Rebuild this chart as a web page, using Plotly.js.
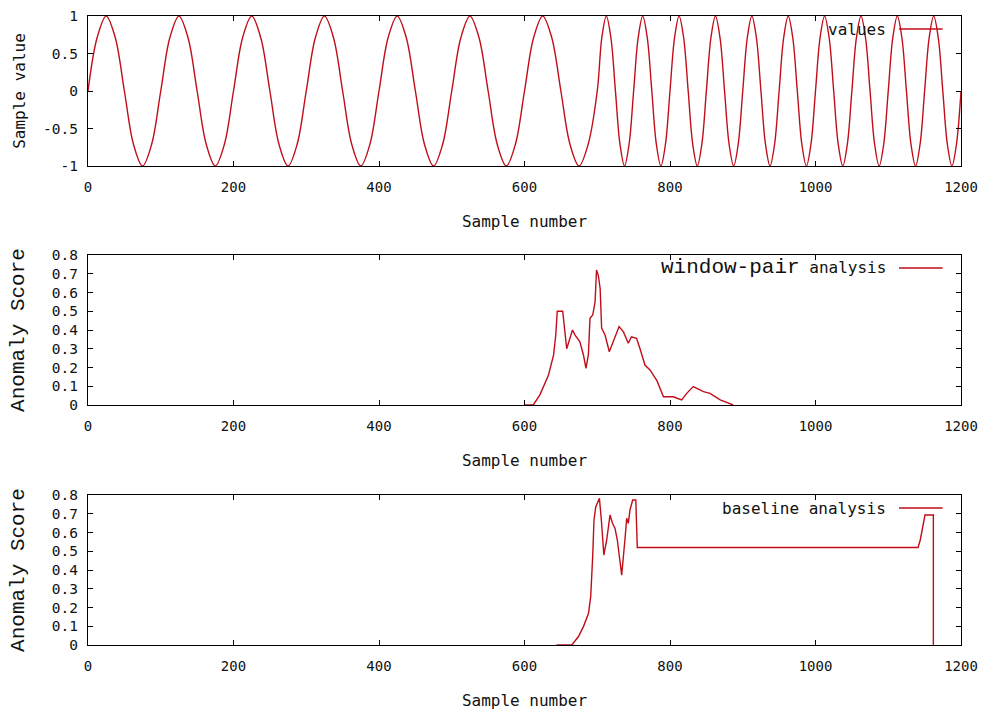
<!DOCTYPE html>
<html>
<head>
<meta charset="utf-8">
<script src="https://cdn.plot.ly/plotly-3.0.1.min.js"></script>
<style>html,body{margin:0;padding:0;background:#fff;}#chart{width:993px;height:713px;}</style>
</head>
<body>
<div id="chart"></div>
<script>
// ---- Top panel: sample values ----
var sampleX = [
  0,12.5,25,37.5,50,62.5,75,87.5,
  100,112.5,125,137.5,150,162.5,175,187.5,
  200,212.5,225,237.5,250,262.5,275,287.5,
  300,312.5,325,337.5,350,362.5,375,387.5,
  400,412.5,425,437.5,450,462.5,475,487.5,
  500,512.5,525,537.5,550,562.5,575,587.5,
  600,612.5,625,637.5,650,662.5,675,687.5,
  700,706.25,712.5,718.75,725,731.25,737.5,743.75,
  750,756.25,762.5,768.75,775,781.25,787.5,793.75,
  800,806.25,812.5,818.75,825,831.25,837.5,843.75,
  850,856.25,862.5,868.75,875,881.25,887.5,893.75,
  900,906.25,912.5,918.75,925,931.25,937.5,943.75,
  950,956.25,962.5,968.75,975,981.25,987.5,993.75,
  1000,1006.25,1012.5,1018.75,1025,1031.25,1037.5,1043.75,
  1050,1056.25,1062.5,1068.75,1075,1081.25,1087.5,1093.75,
  1100,1106.25,1112.5,1118.75,1125,1131.25,1137.5,1143.75,
  1150,1156.25,1162.5,1168.75,1175,1181.25,1187.5,1193.75,
  1200
];
var sampleValues = [
  0,0.71,1,0.71,0,-0.71,-1,-0.71,
  0,0.71,1,0.71,0,-0.71,-1,-0.71,
  0,0.71,1,0.71,0,-0.71,-1,-0.71,
  0,0.71,1,0.71,0,-0.71,-1,-0.71,
  0,0.71,1,0.71,0,-0.71,-1,-0.71,
  0,0.71,1,0.71,0,-0.71,-1,-0.71,
  0,0.71,1,0.71,0,-0.71,-1,-0.71,
  0,0.71,1,0.71,0,-0.71,-1,-0.71,
  0,0.71,1,0.71,0,-0.71,-1,-0.71,
  0,0.71,1,0.71,0,-0.71,-1,-0.71,
  0,0.71,1,0.71,0,-0.71,-1,-0.71,
  0,0.71,1,0.71,0,-0.71,-1,-0.71,
  0,0.71,1,0.71,0,-0.71,-1,-0.71,
  0,0.71,1,0.71,0,-0.71,-1,-0.71,
  0,0.71,1,0.71,0,-0.71,-1,-0.71,
  0,0.71,1,0.71,0,-0.71,-1,-0.71,
  0,0.71,1,0.71,0,-0.71,-1,-0.71,
  0
];

// ---- Middle panel: window-pair analysis ----
var windowPairX = [600,612,621,633,640,643,645,652.5,658,662.5,666,669.5,672.6,676,681,684.5,687.8,690,693.8,697,699,701.5,704,706,710.7,716.6,722,730,736,742.7,747,754,758.8,765.6,772.5,782,791,804.5,816,823,832,837,846,855,869,887];
var windowPairScore = [0,0,0.053,0.16,0.267,0.373,0.50,0.50,0.30,0.356,0.40,0.373,0.356,0.338,0.267,0.196,0.267,0.462,0.48,0.55,0.72,0.69,0.62,0.41,0.373,0.284,0.338,0.418,0.39,0.329,0.364,0.356,0.30,0.213,0.187,0.13,0.044,0.044,0.027,0.062,0.098,0.089,0.071,0.062,0.027,0];

// ---- Bottom panel: baseline analysis ----
var baselineX = [644,665,674,681,688,691,693.7,695.5,698,703,706,709,713,717.5,721,724.4,727.6,733.6,738,740.5,742.7,745,748.7,753,755,1141,1144,1150.5,1162,1162];
var baselineScore = [0,0,0.044,0.098,0.169,0.258,0.47,0.667,0.738,0.782,0.649,0.48,0.56,0.693,0.649,0.622,0.56,0.373,0.56,0.676,0.649,0.72,0.773,0.773,0.52,0.52,0.56,0.693,0.693,0];

// ---- Labels ----
var xTickVals = [0,200,400,600,800,1000,1200];
var topTickVals = [-1,-0.5,0,0.5,1];
var topTickText = ["-1","-0.5","0","0.5","1"];
var scoreTickVals = [0,0.1,0.2,0.3,0.4,0.5,0.6,0.7,0.8];
var scoreTickText = ["0","0.1","0.2","0.3","0.4","0.5","0.6","0.7","0.8"];
var seriesNames = ["values","window-pair analysis","baseline analysis"];

var RED = "#c00d1a";
var MONO = "DejaVu Sans Mono, monospace";
var COURIER = "Liberation Mono, Courier New, monospace";

var traces = [
  {x: sampleX, y: sampleValues, type: "scatter", mode: "lines", name: seriesNames[0],
   line: {color: RED, width: 1.4, shape: "spline", smoothing: 1}, xaxis: "x", yaxis: "y", showlegend: false},
  {x: windowPairX, y: windowPairScore, type: "scatter", mode: "lines", name: seriesNames[1],
   line: {color: RED, width: 1.4}, xaxis: "x2", yaxis: "y2", showlegend: false},
  {x: baselineX, y: baselineScore, type: "scatter", mode: "lines", name: seriesNames[2],
   line: {color: RED, width: 1.4}, xaxis: "x3", yaxis: "y3", showlegend: false}
];

function xAxis(anchor) {
  return {
    anchor: anchor, domain: [0, 1], range: [0, 1200],
    tickvals: xTickVals, ticks: "inside", ticklen: 5, tickcolor: "#000",
    showline: true, linecolor: "#000", linewidth: 1.2, mirror: "ticks",
    showgrid: false, zeroline: false,
    tickfont: {family: MONO, size: 14, color: "#111"},
    ticklabelstandoff: 8,
    title: {text: "Sample number", font: {family: MONO, size: 16, color: "#111"}, standoff: 21}
  };
}
function yAxis(anchor, domain, range, vals, text, title, tfont, standoff) {
  return {
    anchor: anchor, domain: domain, range: range,
    tickvals: vals, ticktext: text, ticks: "inside", ticklen: 5, tickcolor: "#000",
    showline: true, linecolor: "#000", linewidth: 1.2, mirror: "ticks",
    showgrid: false, zeroline: false,
    tickfont: {family: MONO, size: 14.5, color: "#111"},
    ticklabelstandoff: 6,
    title: {text: title, font: tfont, standoff: standoff}
  };
}

var layout = {
  width: 993, height: 713,
  margin: {l: 88, r: 32, t: 16, b: 68},
  paper_bgcolor: "#fff", plot_bgcolor: "#fff",
  showlegend: false,
  xaxis: xAxis("y"),
  xaxis2: xAxis("y2"),
  xaxis3: xAxis("y3"),
  yaxis: yAxis("x", [0.76153, 1], [-1, 1], topTickVals, topTickText, "Sample value",
               {family: MONO, size: 16, color: "#111"}, 13),
  yaxis2: yAxis("x2", [0.38156, 0.62003], [0, 0.8], scoreTickVals, scoreTickText, "Anomaly Score",
               {family: COURIER, size: 21, color: "#111"}, 21),
  yaxis3: yAxis("x3", [0, 0.23847], [0, 0.8], scoreTickVals, scoreTickText, "Anomaly Score",
               {family: COURIER, size: 21, color: "#111"}, 21),
  annotations: [
    {xref: "paper", yref: "paper", x: 0.9164, y: 0.9793, xanchor: "right", yanchor: "middle",
     text: seriesNames[0], showarrow: false, font: {family: MONO, size: 16, color: "#111"}},
    {xref: "paper", yref: "paper", x: 0.9164, y: 0.5994, xanchor: "right", yanchor: "middle",
     text: '<span style="font-family:Liberation Mono, monospace;font-size:21px">window-pair</span> analysis',
     showarrow: false, font: {family: MONO, size: 16, color: "#111"}},
    {xref: "paper", yref: "paper", x: 0.9164, y: 0.2178, xanchor: "right", yanchor: "middle",
     text: seriesNames[2], showarrow: false, font: {family: MONO, size: 16, color: "#111"}}
  ],
  shapes: [
    {type: "line", xref: "paper", yref: "paper", x0: 0.929, x1: 0.979, y0: 0.9793, y1: 0.9793, line: {color: RED, width: 1.4}},
    {type: "line", xref: "paper", yref: "paper", x0: 0.929, x1: 0.979, y0: 0.5994, y1: 0.5994, line: {color: RED, width: 1.4}},
    {type: "line", xref: "paper", yref: "paper", x0: 0.929, x1: 0.979, y0: 0.2178, y1: 0.2178, line: {color: RED, width: 1.4}}
  ]
};

Plotly.newPlot("chart", traces, layout, {staticPlot: true, displayModeBar: false});
</script>
</body>
</html>
